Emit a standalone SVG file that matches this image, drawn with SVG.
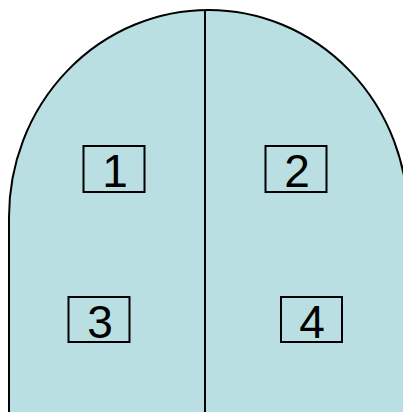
<svg xmlns="http://www.w3.org/2000/svg" width="403" height="412" viewBox="0 0 403 412">
<style>
.box{fill:none;stroke:#000;stroke-width:2}
.lbl{font-family:"Liberation Sans",Arial,sans-serif;font-size:46px;fill:#000;text-anchor:middle}
</style>
<rect width="403" height="412" fill="#fff"/>
<g id="shape">
<path d="M9,420 L9,217 A199.5,207 0 0 1 408,217 L408,420 Z" fill="#b9dfe2" stroke="#000" stroke-width="2"/>
</g>
<g id="connectors">
<line x1="205" y1="10" x2="205" y2="412" stroke="#000" stroke-width="2"/>
</g>
<g id="n1"><rect class="box" x="83.5" y="146" width="61" height="46"/><text class="lbl" x="115" y="187">1</text></g>
<g id="n2"><rect class="box" x="265.5" y="146" width="61" height="46"/><text class="lbl" x="297" y="187">2</text></g>
<g id="n3"><rect class="box" x="68.5" y="297" width="61" height="45"/><text class="lbl" x="100" y="338">3</text></g>
<g id="n4"><rect class="box" x="281" y="297" width="61" height="45"/><text class="lbl" x="312" y="338">4</text></g>
</svg>
